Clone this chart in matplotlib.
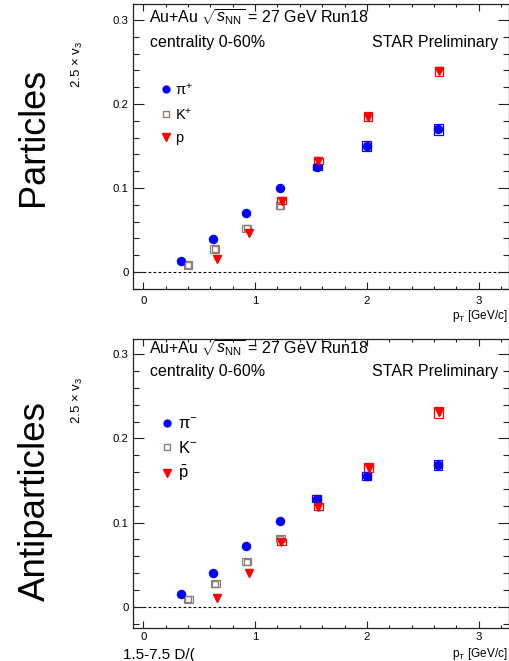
import matplotlib
matplotlib.use("Agg")
import matplotlib.pyplot as plt
from matplotlib.patches import Rectangle
from matplotlib.lines import Line2D
from matplotlib.ticker import MultipleLocator, FuncFormatter

plt.rcParams["font.family"] = ["Liberation Sans", "DejaVu Sans"]
plt.rcParams["mathtext.fontset"] = "custom"
plt.rcParams["mathtext.rm"] = "Liberation Sans"
plt.rcParams["mathtext.it"] = "Liberation Sans:italic"
plt.rcParams["mathtext.bf"] = "Liberation Sans:bold"

W, H = 510, 661
BLUE = "#0000ff"
RED = "#ff0000"
KCOL = "#8f7f78"
INK = "#222222"

# ---- particles (top) ----
pt_pip = [0.337, 0.626, 0.916, 1.223, 1.556, 1.998, 2.640]
v3_pip = [0.013, 0.039, 0.070, 0.100, 0.125, 0.150, 0.170]
sys_pip = [0, 0, 0, 0, 0.003, 0.0054, 0.0065]

pt_kp = [0.400, 0.640, 0.925, 1.223]
v3_kp = [0.0083, 0.0274, 0.052, 0.079]
sys_kp = [0.0045, 0.0045, 0.0045, 0.0045]

pt_p = [0.656, 0.945, 1.238, 1.565, 2.010, 2.645]
v3_p = [0.0155, 0.046, 0.085, 0.132, 0.185, 0.239]
sys_p = [0, 0, 0.004, 0.004, 0.0054, 0.0054]

# ---- antiparticles (bottom) ----
pt_pim = [0.337, 0.627, 0.916, 1.224, 1.552, 2.000, 2.636]
v3_pim = [0.0147, 0.0405, 0.0722, 0.1016, 0.1282, 0.1556, 0.1683]
sys_pim = [0, 0, 0, 0, 0.004, 0.005, 0.0063]

pt_km = [0.403, 0.642, 0.925, 1.224]
v3_km = [0.0087, 0.0274, 0.0536, 0.081]
sys_km = [0.0045, 0.0045, 0.0045, 0.0045]

pt_pbar = [0.657, 0.946, 1.233, 1.567, 2.015, 2.642]
v3_pbar = [0.010, 0.040, 0.077, 0.119, 0.165, 0.231]
sys_pbar = [0, 0, 0.0038, 0.004, 0.0053, 0.0065]


def fx(x):
    return x / W


def fy(y):
    return 1 - y / H


def sys_boxes(ax, xs, ys, ss, color):
    for x, y, s in zip(xs, ys, ss):
        if s > 0:
            ax.add_patch(Rectangle((x - 0.04, y - s), 0.08, 2 * s, fill=False,
                                   ec=color, lw=0.9, zorder=3))


def panel(ax, ylim, series, labels, leg_fs, leg_top, leg_sp, tick_pad):
    ax.set_xlim(-0.092, 3.271)
    ax.set_ylim(*ylim)
    ax.axhline(0, color="black", lw=0.8, ls=(0, (2.5, 2)), zorder=1)
    handles = []
    for (xs, ys, ss, col, mk, ms, mfc) in series:
        sys_boxes(ax, xs, ys, ss, col)
        ax.plot(xs, ys, ls="none", marker=mk, ms=ms, mfc=mfc, mec=col,
                mew=1.0, zorder=4)
        handles.append(Line2D([], [], ls="none", marker=mk, ms=ms * 0.85,
                              mfc=mfc, mec=col, mew=1.0))
    ax.legend(handles, labels, loc="upper left",
              bbox_to_anchor=(0.072, leg_top),
              frameon=False, fontsize=leg_fs, handlelength=0.8,
              handletextpad=0.25, labelspacing=leg_sp, borderpad=0,
              borderaxespad=0)
    ax.xaxis.set_major_locator(MultipleLocator(1))
    ax.xaxis.set_minor_locator(MultipleLocator(0.2))
    ax.yaxis.set_major_locator(MultipleLocator(0.1))
    ax.yaxis.set_minor_locator(MultipleLocator(0.02))
    ax.yaxis.set_major_formatter(FuncFormatter(
        lambda v, _: "0" if abs(v) < 1e-9 else f"{v:.1f}"))
    ax.xaxis.set_major_formatter(FuncFormatter(lambda v, _: f"{v:.0f}"))
    ax.tick_params(which="both", direction="in", top=True, right=True,
                   colors=INK, labelcolor="black", labelsize=8.2, width=0.8)
    ax.tick_params(axis="y", which="major", length=8, pad=3)
    ax.tick_params(axis="y", which="minor", length=4.3)
    ax.tick_params(axis="x", which="major", length=5, pad=tick_pad)
    ax.tick_params(axis="x", which="minor", length=2.5)
    for sp in ax.spines.values():
        sp.set_color(INK)
        sp.set_linewidth(0.9)


fig = plt.figure(figsize=(W / 100, H / 100), dpi=100)
ax1 = fig.add_axes([fx(133), fy(289.3), (509 - 133) / W, (289.3 - 4) / H])
ax2 = fig.add_axes([fx(133), fy(627.7), (509 - 133) / W, (627.7 - 339) / H])

panel(ax1, (-0.0206, 0.319),
      [(pt_pip, v3_pip, sys_pip, BLUE, "o", 5.8, BLUE),
       (pt_kp, v3_kp, sys_kp, KCOL, "s", 5.0, "none"),
       (pt_p, v3_p, sys_p, RED, "v", 6.0, RED)],
      ["π$^{+}$", "K$^{+}$", "p"], 10.5, 0.728, 0.6, 5)
panel(ax2, (-0.0249, 0.318),
      [(pt_pim, v3_pim, sys_pim, BLUE, "o", 5.8, BLUE),
       (pt_km, v3_km, sys_km, KCOL, "s", 5.0, "none"),
       (pt_pbar, v3_pbar, sys_pbar, RED, "v", 6.0, RED)],
      ["π$^{-}$", "K$^{-}$", r"$\bar{\mathrm{p}}$"], 12, 0.732, 0.5, 3)

# headers
for base1, base2 in [(22, 46.5), (353.3, 375.7)]:
    fig.text(fx(149.3), fy(base1),
             r"Au+Au $\sqrt{s_{\mathrm{NN}}}$ = 27 GeV Run18",
             fontsize=11.5, va="baseline", ha="left")
    fig.text(fx(150), fy(base2), "centrality 0-60%", fontsize=11.5,
             va="baseline", ha="left")
    fig.text(fx(498), fy(base2), "STAR Preliminary", fontsize=11.5,
             va="baseline", ha="right")

# axis titles
for yc in (64, 400):
    fig.text(fx(77), fy(yc), "2.5 × v$_{3}$", rotation=90, fontsize=9.5,
             ha="center", va="center")
for yb in (319, 657):
    fig.text(fx(508), fy(yb), r"p$_{\mathrm{T}}$ [GeV/c]", fontsize=8.5,
             ha="right", va="baseline")

# side labels
fig.text(fx(33), fy(137), "Particles", rotation=90, fontsize=26,
         ha="center", va="center")
fig.text(fx(35), fy(501), "Antiparticles", rotation=90, fontsize=26.5,
         ha="center", va="center")

# slide text at the bottom edge (cut in the source, kept fully visible)
fig.text(fx(123), fy(658.5), "1.5-7.5 D/(", fontsize=11, ha="left",
         va="baseline")

fig.savefig("out.png", dpi=100, facecolor="white")
